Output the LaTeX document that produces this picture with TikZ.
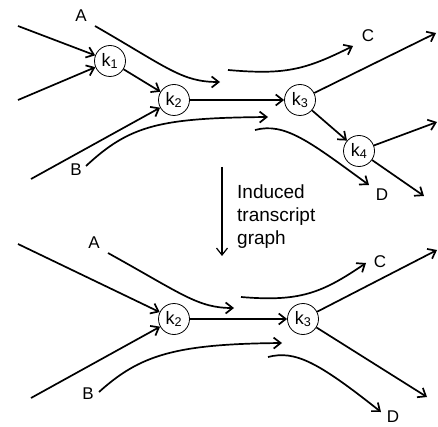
\documentclass[tikz,border=0pt]{standalone}
\usepackage{fontspec}
\setmainfont{Liberation Sans}
\usetikzlibrary{arrows.meta}

\begin{document}
\begin{tikzpicture}[x=1pt, y=-1pt,
    kmer/.style ={circle, draw, line width=0.8pt, minimum size=31pt, inner sep=0pt, font=\fontsize{18}{18}\selectfont},
    tag/.style ={inner sep=0pt, font=\fontsize{17}{17}\selectfont},
    edge/.style ={line width=1.7pt, -{Straight Barb[length=7pt,width=11pt]}}]
   \useasboundingbox (0,0) rectangle (438,427);

   % top graph
   \node[kmer] (K1) at (110,61)  {k\textsubscript{1}};
   \node[kmer] (K2) at (174,100) {k\textsubscript{2}};
   \node[kmer] (K3) at (300,100) {k\textsubscript{3}};
   \node[kmer] (K4) at (359,151) {k\textsubscript{4}};
   \coordinate (I1) at (18,26);
   \coordinate (I2) at (18,100);
   \coordinate (I3) at (31,179);
   \coordinate (O1) at (436,33);
   \coordinate (O2) at (437,122);
   \coordinate (O3) at (424,196);

   \draw[edge] (I1) to (K1);
   \draw[edge] (I2) to (K1);
   \draw[edge] (K1) to (K2);
   \draw[edge] (I3) to (K2);
   \draw[edge] (K2) to (K3);
   \draw[edge] (K3) to (O1);
   \draw[edge] (K3) to (K4);
   \draw[edge] (K4) to (O2);
   \draw[edge] (K4) to (O3);

   \node[tag] (A) at (81,16)  {A};
   \node[tag] (B) at (76,170) {B};
   \node[tag] (C) at (368,36) {C};
   \node[tag] (D) at (382,195) {D};
   \coordinate (A0) at (95,26);   \coordinate (A1) at (220,82);
   \coordinate (B0) at (86,166);  \coordinate (B1) at (268,117);
   \coordinate (C0) at (228,70);  \coordinate (C1) at (353,46);
   \coordinate (D0) at (255,130); \coordinate (D1) at (369,185);
   \draw[edge] (A0) .. controls (168,68) and (182,82) .. (A1);
   \draw[edge] (B0) .. controls (130,125) and (160,118) .. (B1);
   \draw[edge] (C0) .. controls (285,75) and (305,70) .. (C1);
   \draw[edge] (D0) .. controls (285,122) and (310,142) .. (D1);

   % induced graph
   \coordinate (T0) at (222,167);
   \coordinate (T1) at (222,256);
   \draw[edge, line width=1.2pt] (T0) to (T1);
   \node[anchor=north west, inner sep=0pt, align=left, font=\fontsize{19}{23}\selectfont] (Cap) at (237,185) {Induced\\transcript\\graph};

   % bottom graph
   \node[kmer] (L2) at (174,319) {k\textsubscript{2}};
   \node[kmer] (L3) at (303,319) {k\textsubscript{3}};
   \coordinate (I4) at (18,244);
   \coordinate (I5) at (31,398);
   \coordinate (O4) at (437,250);
   \coordinate (O5) at (427,397);

   \draw[edge] (I4) to (L2);
   \draw[edge] (I5) to (L2);
   \draw[edge] (L2) to (L3);
   \draw[edge] (L3) to (O4);
   \draw[edge] (L3) to (O5);

   \node[tag] (A') at (94,243) {A};
   \node[tag] (B') at (88,394) {B};
   \node[tag] (C') at (380,262) {C};
   \node[tag] (D') at (393,417) {D};
   \coordinate (E0) at (108,253); \coordinate (E1) at (234,308);
   \coordinate (F0) at (99,392);  \coordinate (F1) at (282,343);
   \coordinate (G0) at (241,297); \coordinate (G1) at (366,263);
   \coordinate (H0) at (268,357); \coordinate (H1) at (381,412);
   \draw[edge] (E0) .. controls (182,294) and (198,308) .. (E1);
   \draw[edge] (F0) .. controls (140,355) and (175,344) .. (F1);
   \draw[edge] (G0) .. controls (300,302) and (322,293) .. (G1);
   \draw[edge] (H0) .. controls (295,350) and (318,362) .. (H1);
 \end{tikzpicture}
\end{document}
